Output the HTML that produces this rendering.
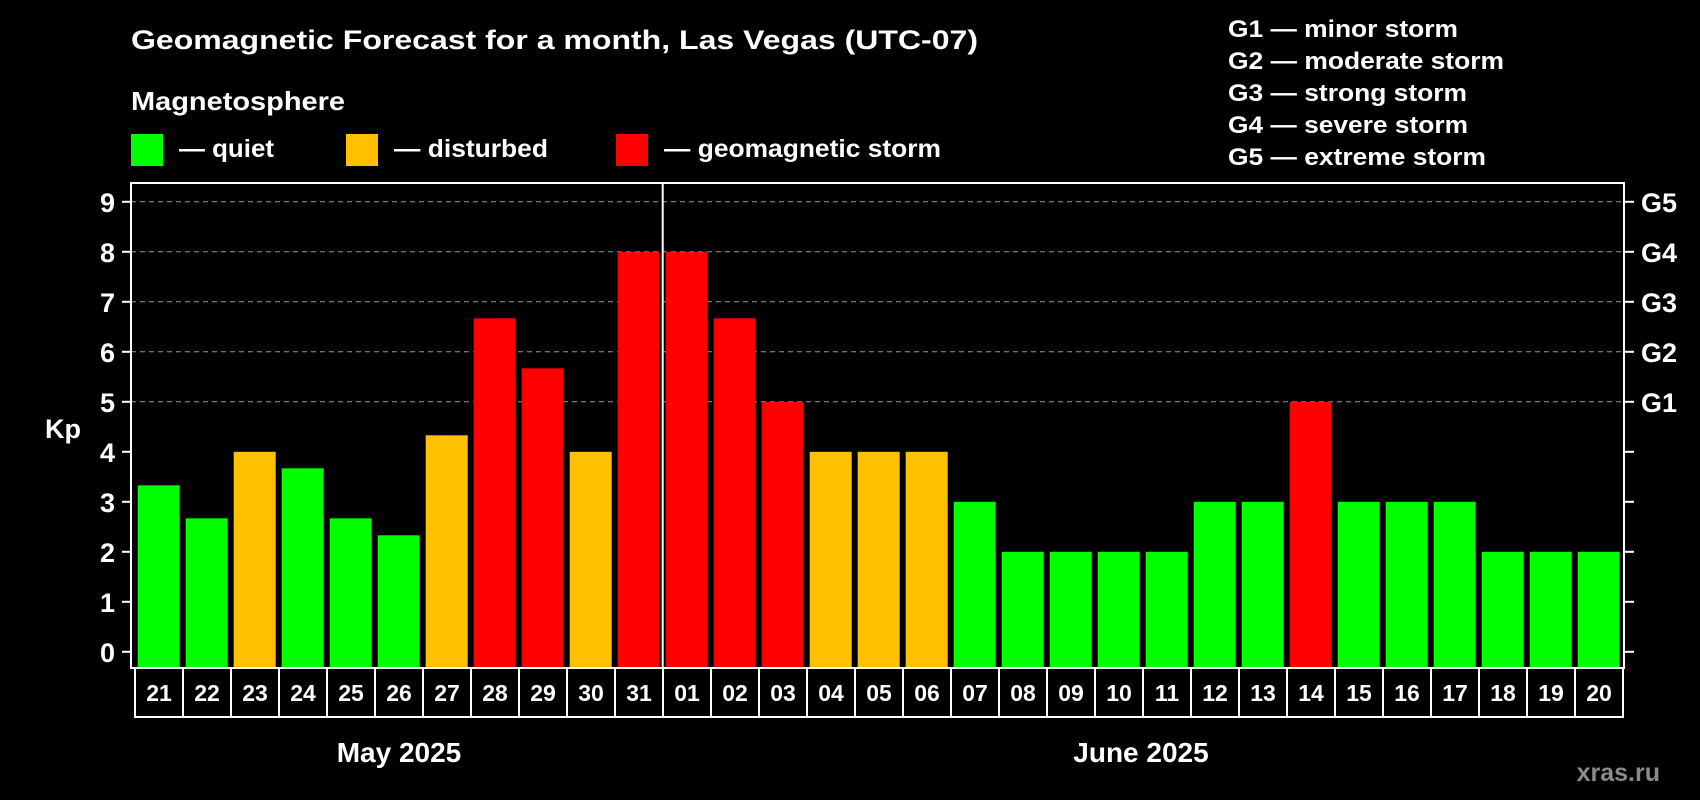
<!DOCTYPE html>
<html><head><meta charset="utf-8"><style>
html,body{margin:0;padding:0;background:#000;}
svg{display:block;font-family:"Liberation Sans",Arial,sans-serif;font-weight:bold;}
</style></head><body>
<svg id="chart" width="1700" height="800" viewBox="0 0 1700 800">
<rect width="1700" height="800" fill="#000"/>
<text x="131" y="49" fill="#fff" font-size="27" textLength="847" lengthAdjust="spacingAndGlyphs">Geomagnetic Forecast for a month, Las Vegas (UTC-07)</text>
<text x="131" y="110" fill="#fff" font-size="26" textLength="214" lengthAdjust="spacingAndGlyphs">Magnetosphere</text>
<g><rect x="131" y="134" width="32" height="32" fill="#00ff00"/><text x="179" y="157" fill="#fff" font-size="25" textLength="95" lengthAdjust="spacingAndGlyphs">— quiet</text></g>
<g><rect x="346" y="134" width="32" height="32" fill="#ffc000"/><text x="394" y="157" fill="#fff" font-size="25" textLength="154" lengthAdjust="spacingAndGlyphs">— disturbed</text></g>
<g><rect x="616" y="134" width="32" height="32" fill="#ff0000"/><text x="664" y="157" fill="#fff" font-size="25" textLength="277" lengthAdjust="spacingAndGlyphs">— geomagnetic storm</text></g>
<g font-size="24" fill="#fff">
<text x="1228" y="37" textLength="230" lengthAdjust="spacingAndGlyphs">G1 — minor storm</text>
<text x="1228" y="69" textLength="276" lengthAdjust="spacingAndGlyphs">G2 — moderate storm</text>
<text x="1228" y="101" textLength="239" lengthAdjust="spacingAndGlyphs">G3 — strong storm</text>
<text x="1228" y="133" textLength="240" lengthAdjust="spacingAndGlyphs">G4 — severe storm</text>
<text x="1228" y="165" textLength="258" lengthAdjust="spacingAndGlyphs">G5 — extreme storm</text>
</g>
<text x="63" y="438" fill="#fff" font-size="27" text-anchor="middle">Kp</text>
<g id="grid"></g>
<g id="bars"></g>
<g id="axes"></g>
<text x="399" y="762" fill="#fff" font-size="28" text-anchor="middle">May 2025</text>
<text x="1141" y="762" fill="#fff" font-size="28" text-anchor="middle">June 2025</text>
<text x="1660" y="781" fill="#8a8a8a" font-size="25" text-anchor="end">xras.ru</text>
</svg>
<script>
const days = ["21","22","23","24","25","26","27","28","29","30","31","01","02","03","04","05","06","07","08","09","10","11","12","13","14","15","16","17","18","19","20"];
const kpValues = [3.33,2.67,4,3.67,2.67,2.33,4.33,6.67,5.67,4,8,8,6.67,5,4,4,4,3,2,2,2,2,3,3,5,3,3,3,2,2,2];
const kpTicks = [0,1,2,3,4,5,6,7,8,9];
const gLabels = ["G1","G2","G3","G4","G5"];
const NS="http://www.w3.org/2000/svg";
const L=131,R=1624,T=183,B=668,y0=651.8,unit=50,x0=137.7,step=48,bw=42;
const y=v=>y0-v*unit;
const x=i=>x0+i*step;
function mk(t,a,p){const e=document.createElementNS(NS,t);for(const k in a)e.setAttribute(k,a[k]);p.appendChild(e);return e;}
function color(v){return v>=5?"#ff0000":v>=4?"#ffc000":"#00ff00";}
const grid=document.getElementById('grid'),bars=document.getElementById('bars'),axes=document.getElementById('axes');
kpTicks.forEach(t=>{if(t>=5){const g=mk('line',{x1:L,x2:R,y1:y(t),y2:y(t),stroke:'#999','stroke-width':1,'stroke-dasharray':'5,4'},grid);

}});
kpValues.forEach((v,i)=>{const r=mk('rect',{x:x(i),y:y(v),width:bw,height:B-1-y(v),fill:color(v)},bars);

});
const fr=mk('rect',{x:L,y:T,width:R-L,height:B-T,fill:'none',stroke:'#fff','stroke-width':2},axes);


const dv=mk('line',{x1:x(11)-3,x2:x(11)-3,y1:T,y2:B,stroke:'#fff','stroke-width':2},axes);


kpTicks.forEach(t=>{
mk('line',{x1:L-9,x2:L,y1:y(t),y2:y(t),stroke:'#fff','stroke-width':2},axes);
mk('line',{x1:R,x2:R+10,y1:y(t),y2:y(t),stroke:'#fff','stroke-width':2},axes);
const tx=mk('text',{x:115,y:y(t)+10,fill:'#fff','font-size':27,'text-anchor':'end'},axes);tx.textContent=t;


if(t>=5){const g=mk('text',{x:1641,y:y(t)+10,fill:'#fff','font-size':27},axes);g.textContent=gLabels[t-5];

}
});
const bx0=135,bw2=48;
days.forEach((d,i)=>{const c=mk('rect',{x:bx0+i*bw2,y:B,width:bw2,height:49,fill:'none',stroke:'#fff','stroke-width':2},axes);


const t=mk('text',{x:bx0+i*bw2+bw2/2,y:B+33,fill:'#fff','font-size':23,'text-anchor':'middle'},axes);t.textContent=d;

});
</script>
</body></html>
